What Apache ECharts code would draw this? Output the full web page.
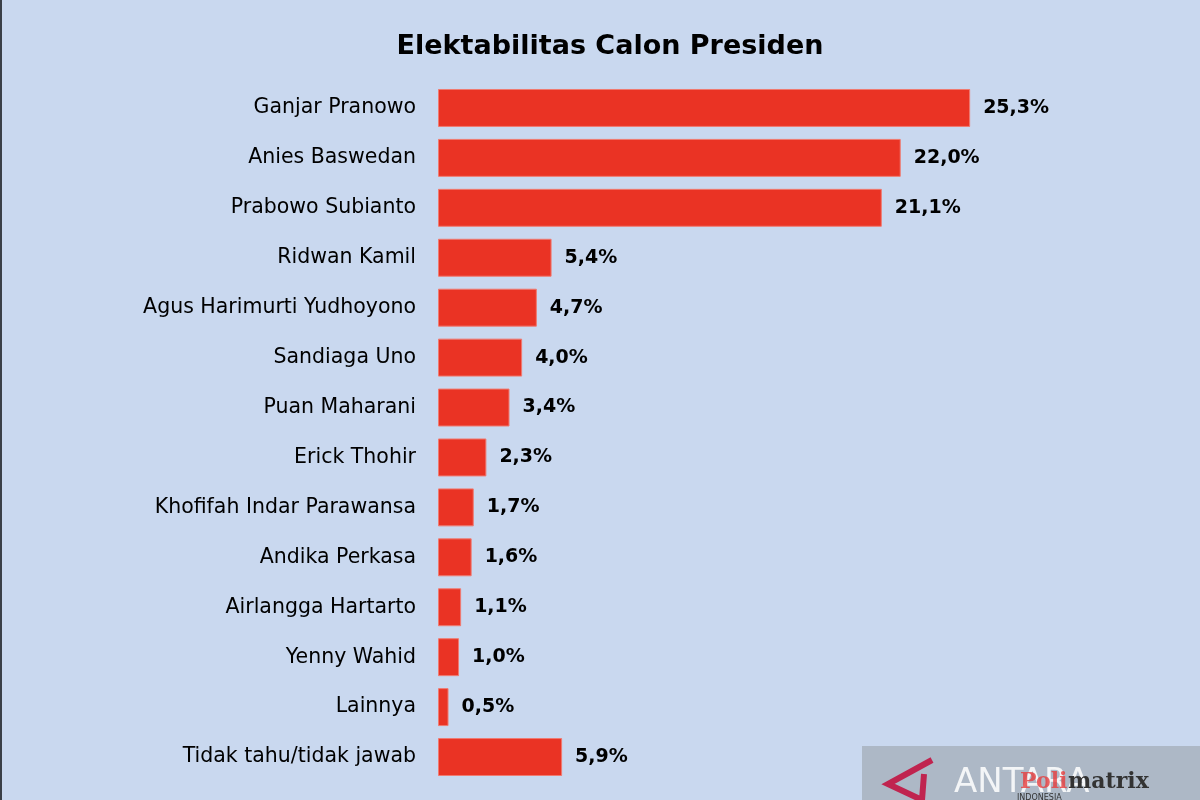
<!DOCTYPE html>
<html><head><meta charset="utf-8">
<script src="https://cdn.jsdelivr.net/npm/echarts@6/dist/echarts.min.js"></script>
<style>html,body{margin:0;padding:0;background:#c9d8ef}#c{width:1200px;height:800px}</style>
</head><body><div id="c"></div>
<script>
const categories = ["Ganjar Pranowo","Anies Baswedan","Prabowo Subianto","Ridwan Kamil","Agus Harimurti Yudhoyono","Sandiaga Uno","Puan Maharani","Erick Thohir","Khofifah Indar Parawansa","Andika Perkasa","Airlangga Hartarto","Yenny Wahid","Lainnya","Tidak tahu/tidak jawab"];
const values = [25.3,22.0,21.1,5.4,4.7,4.0,3.4,2.3,1.7,1.6,1.1,1.0,0.5,5.9];
const titleText = "Elektabilitas Calon Presiden";

const chart = echarts.init(document.getElementById('c'), null, {renderer:'canvas'});
chart.setOption({
  backgroundColor: '#c9d8ef',
  animation: false,
  title: {text: titleText, left: 605, textAlign: 'center', top: 28,
    textStyle: {fontFamily: 'DejaVu Sans', fontWeight: 'bold', fontSize: 27, color: '#000'}},
  grid: {left: 438, right: 131, top: 83, bottom: 18, containLabel: false},
  xAxis: {type: 'value', min: 0, max: 30, show: false},
  yAxis: {type: 'category', data: categories, inverse: true,
    axisLine: {show: false}, axisTick: {show: false},
    axisLabel: {fontFamily: 'DejaVu Sans', fontSize: 20.5, color: '#000', margin: 22}},
  series: [{type: 'bar', data: values, barCategoryGap: '24%',
    itemStyle: {color: '#ea3324', borderColor: '#f07a70', borderWidth: 1},
    label: {show: true, position: 'right', distance: 13,
      formatter: p => p.value.toFixed(1).replace('.', ',') + '%',
      fontFamily: 'DejaVu Sans', fontWeight: 'bold', fontSize: 19, color: '#000'}}],
  graphic: [
    {type: 'rect', left: 0, top: 0, shape: {width: 2, height: 800}, style: {fill: '#3a3f48'}},
    {type: 'group', left: 862, top: 746, children: [
      {type: 'rect', shape: {width: 338, height: 54}, style: {fill: '#adb8c6'}},
      {type: 'polyline', shape: {points: [[70,14],[26,38],[60,54],[62,28]]}, style: {stroke: '#c0244f', lineWidth: 6, fill: null}},
      {type: 'text', left: 92, top: 20, style: {text: 'ANTARA', fontFamily: 'DejaVu Sans', fontSize: 34, fill: 'rgba(255,255,255,0.85)', fontWeight: 'normal'}},
      {type: 'text', left: 158, top: 25, style: {text: 'Poli', fontFamily: 'DejaVu Serif', fontSize: 22, fontWeight: 'bold', fill: 'rgba(230,60,60,0.8)'}},
      {type: 'text', left: 206, top: 25, style: {text: 'matrix', fontFamily: 'DejaVu Serif', fontSize: 22, fontWeight: 'bold', fill: '#333'}},
      {type: 'text', left: 155, top: 48, style: {text: 'INDONESIA', fontFamily: 'DejaVu Sans', fontSize: 8, fill: '#333'}}
    ]}
  ]
});
</script></body></html>
